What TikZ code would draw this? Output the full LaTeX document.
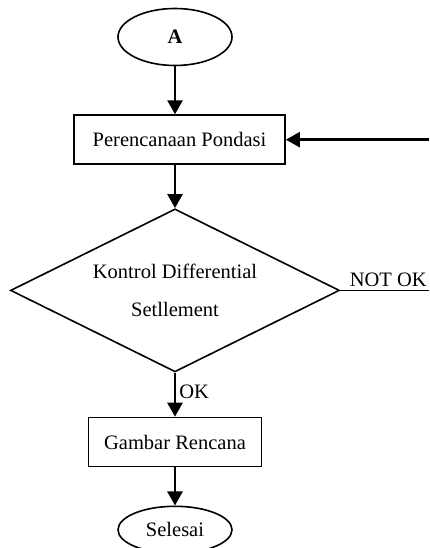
\documentclass[tikz,border=0pt]{standalone}
\usepackage{fontspec}
\setmainfont{Liberation Serif}
\usepackage{tikz}
\usetikzlibrary{arrows.meta,positioning,shapes.geometric}
\tikzset{
  term/.style={draw, ellipse, line width=1.6pt, minimum width=114pt,
               inner sep=0pt, font=\fontsize{20.5}{24}\selectfont},
  proc/.style={draw, line width=1.8pt, minimum height=49pt, inner sep=0pt,
               font=\fontsize{20.5}{24}\selectfont},
  cond/.style={draw, diamond, aspect=2.2, line width=1.6pt, minimum width=329pt,
               minimum height=163pt, inner sep=0pt, align=center,
               font=\fontsize{20.5}{38}\selectfont},
  flow/.style={-{Triangle[length=14pt,width=15pt]}, line width=2.6pt},
  lbl/.style={font=\fontsize{20.5}{24}\selectfont, inner sep=3pt},
}
\begin{document}
\begin{tikzpicture}[x=1pt, y=1pt]
    \useasboundingbox (0,0) rectangle (429,548);
    \node[term, minimum height=57pt] (start) at (175,511) {\textbf{A}};
    \node[proc, minimum width=211pt, below=48pt of start, xshift=4.5pt] (plan) {Perencanaan Pondasi};
    \node[cond, below=43pt of plan.south -| start.south, anchor=north] (check) {Kontrol Differential\\Setllement};
    \node[proc, minimum width=173pt, below=44pt of check] (draw) {Gambar Rencana};
    \node[term, minimum height=47pt, below=38pt of draw] (finish) {Selesai};
    \coordinate (rim) at (429,0);
    \draw[flow] (start) -- (start |- plan.north);
    \draw[flow] (start |- plan.south) -- (check);
    \draw[flow] (check) -- node[lbl, right, pos=0.44] {OK} (draw);
    \draw[flow] (draw) -- (finish);
    \draw[line width=1.6pt] (check.east) -- node[lbl, above, pos=0.54] {NOT OK} (rim |- check.east);
    \draw[flow] (rim |- plan.east) -- (plan.east);
  \end{tikzpicture}
\end{document}
